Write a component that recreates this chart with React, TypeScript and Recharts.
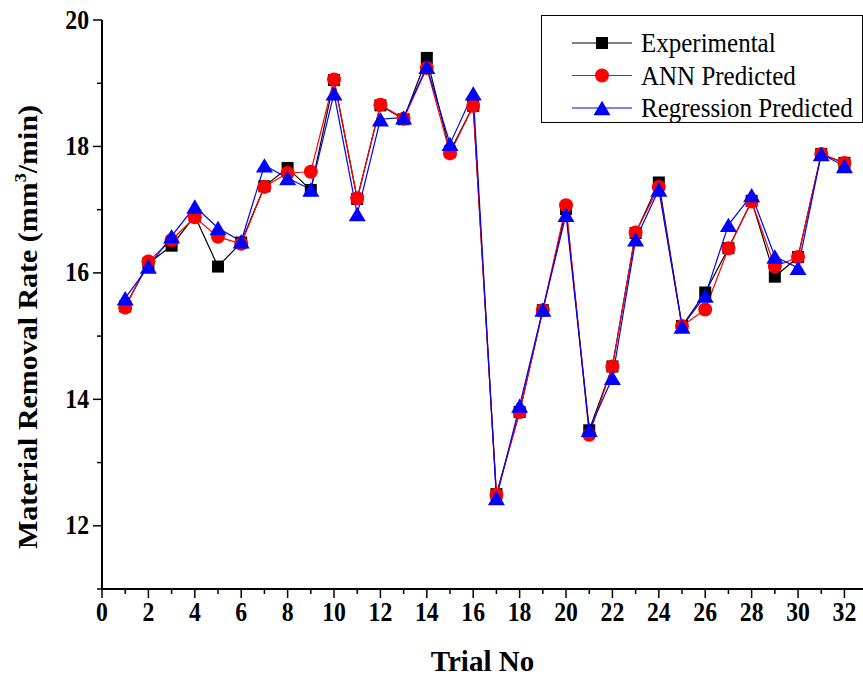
import { LineChart, Line, XAxis, YAxis, Legend, Label } from 'recharts';

const trials = [
  1, 2, 3, 4, 5, 6, 7, 8, 9, 10, 11, 12, 13, 14, 15, 16,
  17, 18, 19, 20, 21, 22, 23, 24, 25, 26, 27, 28, 29, 30, 31, 32,
];

const experimental = [
  15.47, 16.15, 16.43, 16.9, 16.1, 16.48, 17.37, 17.66, 17.31, 19.05, 17.17,
  18.65, 18.43, 19.4, 17.92, 18.64, 12.5, 13.8, 15.41, 17.01, 13.51, 14.52,
  16.63, 17.43, 15.16, 15.69, 16.39, 17.14, 15.94, 16.25, 17.88, 17.74,
];

const annPredicted = [
  15.45, 16.18, 16.52, 16.88, 16.57, 16.46, 17.36, 17.58, 17.6, 19.06, 17.18,
  18.66, 18.44, 19.24, 17.89, 18.64, 12.49, 13.8, 15.41, 17.07, 13.44, 14.52,
  16.64, 17.36, 15.16, 15.42, 16.39, 17.13, 16.1, 16.25, 17.88, 17.74,
];

const regressionPredicted = [
  15.6, 16.1, 16.58, 17.05, 16.71, 16.5, 17.7, 17.5, 17.32, 18.84, 16.93,
  18.43, 18.46, 19.26, 18.04, 18.84, 12.44, 13.9, 15.42, 16.92, 13.52, 14.34,
  16.53, 17.32, 15.15, 15.64, 16.76, 17.23, 16.26, 16.08, 17.88, 17.69,
];

const xTicks = [
  0, 1, 2, 3, 4, 5, 6, 7, 8, 9, 10, 11, 12, 13, 14, 15, 16,
  17, 18, 19, 20, 21, 22, 23, 24, 25, 26, 27, 28, 29, 30, 31, 32,
];
const yTicks = [11, 12, 13, 14, 15, 16, 17, 18, 19, 20];

const data = trials.map((t, i) => ({
  trial: t,
  exp: experimental[i],
  ann: annPredicted[i],
  reg: regressionPredicted[i],
}));

const FONT = '"Liberation Serif", "Times New Roman", serif';

type Shape = 'square' | 'circle' | 'triangle';

const series: { key: string; name: string; color: string; shape: Shape }[] = [
  { key: 'exp', name: 'Experimental', color: '#000000', shape: 'square' },
  { key: 'ann', name: 'ANN Predicted', color: '#ff0000', shape: 'circle' },
  { key: 'reg', name: 'Regression Predicted', color: '#0000ff', shape: 'triangle' },
];

function Marker({ shape, cx, cy, color }: { shape: Shape; cx: number; cy: number; color: string }) {
  if (shape === 'square') {
    return <rect x={cx - 6} y={cy - 6} width={12} height={12} fill={color} />;
  }
  if (shape === 'circle') {
    return <circle cx={cx} cy={cy} r={7} fill={color} />;
  }
  const w = 8.5;
  const h = 7.2;
  return (
    <polygon
      points={`${cx},${cy - h} ${cx - w},${cy + h} ${cx + w},${cy + h}`}
      fill={color}
    />
  );
}

const makeDot = (shape: Shape, color: string) => (props: any) => {
  const { cx, cy, index } = props;
  if (cx == null || cy == null) return <g key={`d-${index}`} />;
  return (
    <g key={`d-${index}`}>
      <Marker shape={shape} cx={cx} cy={cy} color={color} />
    </g>
  );
};

// odd values get a short unlabeled tick, even values a long labeled one
function XTick({ x, y, payload }: any) {
  const major = payload.value % 2 === 0;
  return (
    <g>
      <line x1={x} x2={x} y1={y} y2={y + (major ? 9 : 5)} stroke="#000" strokeWidth={1.5} />
      {major && (
        <text
          transform={`translate(${x}, ${y + 32}) scale(0.95, 1.08)`}
          textAnchor="middle"
          fontSize={25}
          fontWeight="bold"
          fontFamily={FONT}
          fill="#000"
        >
          {payload.value}
        </text>
      )}
    </g>
  );
}

function YTick({ x, y, payload }: any) {
  const major = payload.value % 2 === 0;
  return (
    <g>
      <line x1={x} x2={x - (major ? 9 : 5)} y1={y} y2={y} stroke="#000" strokeWidth={1.5} />
      {major && (
        <text
          transform={`translate(${x - 13}, ${y + 8.5}) scale(0.95, 1.08)`}
          textAnchor="end"
          fontSize={25}
          fontWeight="bold"
          fontFamily={FONT}
          fill="#000"
        >
          {payload.value}
        </text>
      )}
    </g>
  );
}

function YTitle() {
  return (
    <text
      transform="translate(37, 327) rotate(-90) scale(1.07, 1)"
      textAnchor="middle"
      fontSize={28}
      fontWeight="bold"
      fontFamily={FONT}
      fill="#000"
    >
      Material Removal Rate (mm
      <tspan fontSize={17} dy={-11}>3</tspan>
      <tspan dy={11}>/min)</tspan>
    </text>
  );
}

function LegendBox() {
  return (
    <div style={{ width: 320, height: 106, border: '1.5px solid #000', background: '#fff' }}>
      <svg width={320} height={106}>
        {series.map((s, i) => {
          const cy = 27 + i * 32.5;
          return (
            <g key={s.key}>
              <line x1={30} x2={90} y1={cy} y2={cy} stroke={s.color} strokeWidth={1.2} />
              <Marker shape={s.shape} cx={60} cy={cy} color={s.color} />
              <text
                transform={`translate(99, ${cy + 9}) scale(1, 1.06)`}
                fontSize={25}
                fontFamily={FONT}
                fill="#000"
              >
                {s.name}
              </text>
            </g>
          );
        })}
      </svg>
    </div>
  );
}

export default function App() {
  return (
    <div style={{ position: 'absolute', left: 0, top: 0, width: 863, height: 678, background: '#fff' }}>
      <LineChart width={863} height={678} data={data} margin={{ top: 20, right: 0, bottom: 0, left: 0 }}>
        <XAxis
          dataKey="trial"
          type="number"
          domain={[0, 32.8]}
          ticks={xTicks}
          interval={0}
          height={89}
          axisLine={{ stroke: '#000', strokeWidth: 2 }}
          tickLine={false}
          tickSize={0}
          tickMargin={0}
          tick={<XTick />}
        >
          <Label
            value="Trial No"
            position="insideBottom"
            offset={7}
            style={{ fontSize: 29, fontWeight: 'bold', fontFamily: FONT, fill: '#000' }}
          />
        </XAxis>
        <YAxis
          type="number"
          domain={[11, 20]}
          ticks={yTicks}
          interval={0}
          width={102}
          axisLine={{ stroke: '#000', strokeWidth: 2 }}
          tickLine={false}
          tickSize={0}
          tickMargin={0}
          tick={<YTick />}
          label={<YTitle />}
        />
        <Legend
          layout="horizontal"
          verticalAlign="middle"
          align="center"
          content={<LegendBox />}
          wrapperStyle={{ top: 15, left: 541, width: 322, height: 109 }}
        />
        {series.map((s) => (
          <Line
            key={s.key}
            dataKey={s.key}
            name={s.name}
            stroke={s.color}
            strokeWidth={1.2}
            dot={makeDot(s.shape, s.color)}
            activeDot={false}
            isAnimationActive={false}
          />
        ))}
      </LineChart>
    </div>
  );
}
